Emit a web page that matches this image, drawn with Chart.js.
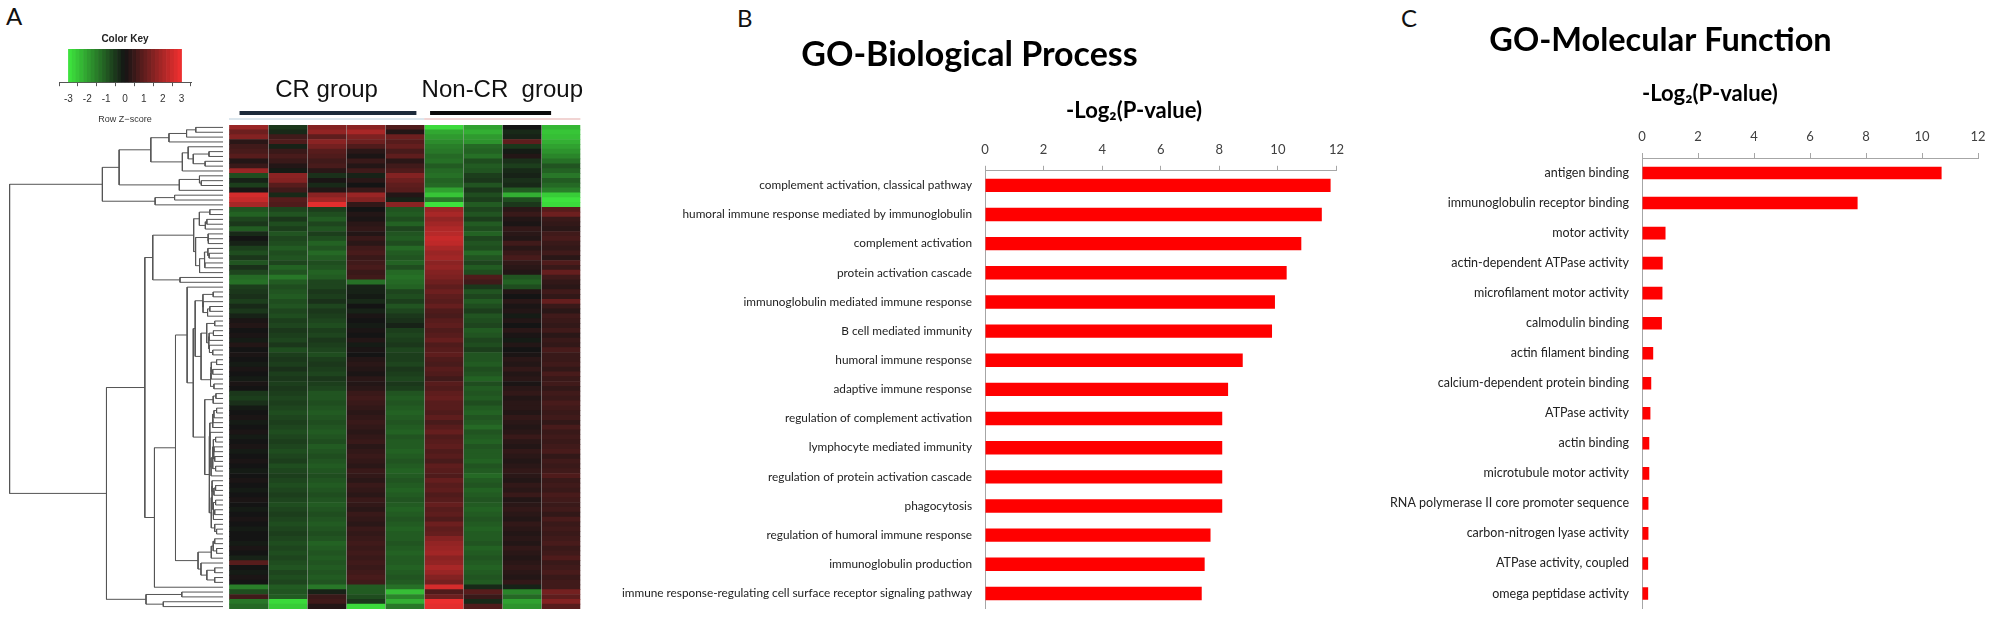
<!DOCTYPE html>
<html>
<head>
<meta charset="utf-8">
<script src="https://cdn.jsdelivr.net/npm/chart.js@4.4.1/dist/chart.umd.min.js"></script>
<style>
  body { margin: 0; background: #fff; width: 2008px; height: 629px; position: relative; overflow: hidden; }
  canvas { position: absolute; }
  .tag { position: absolute; font: 24px Lato, sans-serif; color: #111; line-height: 24px; }
</style>
</head>
<body>
<div class="tag" style="left:6px;top:4px">A</div>
<div class="tag" style="left:737px;top:6px">B</div>
<div class="tag" style="left:1401px;top:6px">C</div>

<canvas id="key" width="170" height="100" style="left:40px;top:25px"></canvas>
<canvas id="dendro" width="223" height="484" style="left:0px;top:125px"></canvas>
<canvas id="heat" width="374" height="549" style="left:229px;top:60px"></canvas>
<canvas id="bp" width="760" height="629" style="left:592px;top:0px"></canvas>
<canvas id="mf" width="662" height="629" style="left:1343px;top:0px"></canvas>

<script>
// ---- panel A: row z-scores, 9 samples (5 CR, 4 Non-CR), rows top to bottom
var groupNames = ['CR group', 'Non-CR  group'];
var groupSizes = [5, 4];
var zRows = [
  [1.8,-0.5,1.5,1.6,0.8,-2.8,-2.0,0.0,-2.3],
  [1.2,-0.3,1.7,2.0,0.2,-2.1,-2.2,-0.3,-2.5],
  [1.5,0.6,1.0,1.4,1.2,-1.9,-1.9,-0.2,-2.4],
  [0.3,0.8,1.6,1.2,0.9,-1.7,-1.8,1.0,-2.2],
  [0.6,-0.2,1.3,0.8,1.1,-1.5,-1.2,-0.5,-2.0],
  [0.7,0.5,0.9,0.3,0.7,-1.4,-1.1,-0.1,-1.8],
  [0.9,0.7,0.8,0.1,1.0,-1.2,-1.3,0.2,-1.6],
  [0.2,0.5,0.6,0.5,0.3,-1.3,-0.8,-0.4,-1.3],
  [0.5,0.2,0.7,0.2,0.6,-1.0,-1.0,-0.6,-0.9],
  [1.8,-0.1,0.3,0.6,0.8,-1.2,-0.9,-0.3,-1.1],
  [-0.8,1.6,-0.4,-0.2,1.5,-1.3,-0.6,-0.2,-1.4],
  [-0.2,1.5,0.1,0.3,1.2,-1.1,-0.5,-0.4,-1.0],
  [-0.6,0.9,-0.3,0.0,1.0,-1.2,-0.9,-0.3,-1.2],
  [0.1,0.6,0.2,0.5,0.9,-2.0,-0.5,-1.0,-1.5],
  [2.6,-0.3,1.6,1.8,0.2,-2.5,-0.8,-2.2,-2.6],
  [2.4,0.9,1.9,1.5,-0.2,-1.4,-0.6,-0.8,-2.9],
  [2.0,0.8,2.8,0.4,1.6,-2.9,-1.0,-0.5,-2.8],
  [-0.9,-0.7,-0.6,0.0,-0.9,1.8,-0.7,0.3,0.9],
  [-1.1,-0.9,-0.8,0.2,-1.0,2.0,-0.9,0.5,1.2],
  [-0.7,-0.5,-1.0,0.1,-0.8,1.7,-0.6,0.2,0.5],
  [-0.5,-0.8,-0.7,0.3,-1.1,1.9,-1.0,0.1,0.4],
  [-1.0,-0.6,-0.9,0.4,-0.7,2.1,-0.8,0.4,0.3],
  [-0.3,-0.9,-0.6,0.2,-0.9,2.2,-1.1,0.3,0.6],
  [0.0,-0.7,-0.8,0.5,-1.0,2.4,-0.7,0.2,0.7],
  [-0.2,-0.8,-1.1,0.3,-0.8,2.3,-0.9,0.6,0.5],
  [-0.6,-1.0,-0.9,0.6,-1.2,2.0,-0.8,0.3,0.4],
  [-0.8,-0.8,-1.2,0.7,-1.0,1.8,-1.2,0.5,0.6],
  [-0.5,-0.9,-1.0,0.5,-0.9,1.9,-0.9,0.7,0.3],
  [-0.9,-0.7,-0.8,0.6,-1.1,1.6,-0.7,0.4,0.8],
  [-0.4,-1.1,-0.9,0.7,-0.8,1.7,-1.0,0.3,0.5],
  [-0.7,-0.9,-1.1,0.5,-1.2,1.5,-0.8,0.2,1.1],
  [-1.2,-1.4,-1.0,0.6,-1.3,1.4,0.8,-0.9,0.6],
  [-1.3,-1.0,-0.7,-1.3,-1.2,1.2,0.6,-1.1,0.4],
  [-0.6,-0.8,-0.7,-0.2,-1.1,1.0,-0.5,-0.8,0.3],
  [-0.5,-0.9,-0.5,-0.2,-0.7,1.2,-0.9,0.2,0.6],
  [-0.4,-1.0,-0.6,-0.1,-0.8,1.0,-0.7,0.0,0.4],
  [-0.6,-0.8,-0.4,-0.3,-0.6,0.9,-1.0,0.3,1.1],
  [-0.3,-0.9,-0.7,0.0,-0.9,1.1,-0.8,0.1,0.5],
  [-0.5,-0.7,-0.5,-0.2,-0.7,0.8,-0.6,0.2,0.3],
  [-0.2,-0.8,-0.6,0.1,-0.5,0.7,-0.9,-0.1,0.6],
  [0.1,-0.6,-0.7,0.0,-0.4,0.9,-0.8,0.2,0.5],
  [0.2,-0.7,-0.8,-0.1,-0.2,1.0,-0.7,0.0,0.4],
  [0.0,-0.5,-0.6,0.1,-0.6,0.8,-1.0,0.3,0.6],
  [0.1,-0.6,-0.7,0.0,-0.7,0.9,-0.9,0.1,0.3],
  [-0.1,-0.7,-0.5,0.2,-0.6,1.1,-0.7,-0.1,0.5],
  [0.2,-0.5,-0.6,-0.1,-0.5,0.8,-0.8,0.2,0.4],
  [0.0,-0.8,-0.7,0.1,-0.7,0.9,-0.6,0.0,0.7],
  [0.1,-0.6,-0.8,0.0,-0.6,1.0,-0.9,0.1,0.5],
  [0.0,-0.5,-0.6,0.2,-0.6,0.8,-0.9,0.3,0.5],
  [-0.1,-0.6,-0.5,0.3,-0.7,0.7,-1.0,0.2,0.6],
  [0.1,-0.4,-0.6,0.2,-0.5,0.9,-0.8,0.4,0.4],
  [0.0,-0.6,-0.7,0.1,-0.6,0.8,-0.9,0.2,0.7],
  [-0.1,-0.5,-0.5,0.3,-0.7,0.6,-1.1,0.3,0.5],
  [0.1,-0.6,-0.6,0.2,-0.5,0.9,-0.8,0.1,0.6],
  [0.0,-0.5,-0.7,0.3,-0.6,0.8,-1.0,0.3,0.4],
  [-0.5,-0.6,-0.9,0.5,-0.9,1.0,-0.9,0.4,0.6],
  [-0.6,-0.7,-0.9,0.6,-1.0,1.1,-1.0,0.2,0.5],
  [-0.4,-0.6,-0.8,0.5,-0.9,0.9,-0.8,0.3,0.7],
  [-0.1,-0.7,-0.9,0.4,-1.0,0.9,-1.0,0.3,0.6],
  [0.0,-0.8,-1.0,0.3,-1.1,0.8,-1.1,0.2,0.5],
  [0.1,-0.7,-0.9,0.4,-1.0,1.0,-0.9,0.4,0.6],
  [-0.1,-0.6,-0.8,0.5,-0.9,0.7,-1.0,0.3,0.4],
  [0.0,-0.7,-0.9,0.4,-1.0,0.9,-1.2,0.2,0.7],
  [0.1,-0.8,-1.0,0.3,-1.1,1.1,-0.9,0.3,0.5],
  [-0.1,-0.7,-0.9,0.4,-0.9,0.8,-1.0,0.5,0.6],
  [0.0,-0.6,-0.8,0.5,-1.0,0.9,-1.1,0.3,0.5],
  [0.1,-0.7,-1.0,0.3,-1.0,1.0,-0.9,0.2,0.6],
  [-0.1,-0.8,-0.9,0.4,-1.1,0.8,-1.0,0.4,0.7],
  [0.0,-0.7,-0.8,0.5,-1.0,0.9,-1.0,0.3,0.4],
  [0.1,-0.6,-0.9,0.4,-0.9,0.7,-1.1,0.2,0.6],
  [0.0,-0.8,-1.0,0.3,-1.0,1.0,-0.9,0.3,0.5],
  [-0.1,-0.7,-0.9,0.5,-1.1,0.9,-1.0,0.4,0.6],
  [0.0,-0.6,-0.8,0.4,-1.0,0.8,-1.2,0.3,0.8],
  [0.1,-0.7,-0.9,0.3,-0.9,1.1,-1.0,0.2,0.5],
  [0.0,-0.8,-1.0,0.5,-1.0,0.9,-0.9,0.4,0.6],
  [-0.1,-0.7,-0.9,0.4,-1.1,1.0,-1.1,0.3,0.5],
  [0.0,-0.6,-0.8,0.3,-1.0,0.8,-1.0,0.5,0.7],
  [0.1,-0.7,-0.9,0.5,-0.9,0.9,-0.9,0.2,0.6],
  [0.0,-0.8,-1.0,0.4,-1.0,1.1,-1.0,0.3,0.5],
  [-0.1,-0.7,-0.9,0.3,-1.1,0.9,-1.1,0.4,0.6],
  [0.0,-0.6,-0.8,0.5,-1.0,1.0,-1.0,0.3,0.4],
  [0.1,-0.7,-0.9,0.4,-0.9,0.8,-0.9,0.2,0.7],
  [0.0,-0.8,-1.0,0.3,-1.0,1.2,-1.0,0.4,0.5],
  [-0.1,-0.7,-0.9,0.5,-1.1,1.0,-1.1,0.3,0.6],
  [0.0,-0.6,-0.8,0.4,-1.0,1.1,-1.0,0.2,0.5],
  [0.0,-0.7,-0.9,0.5,-1.0,1.5,-1.0,0.3,0.6],
  [-0.1,-0.8,-1.1,0.6,-0.9,1.7,-0.9,0.2,0.7],
  [0.1,-0.7,-1.0,0.5,-1.0,1.8,-1.1,0.4,0.5],
  [0.0,-0.8,-0.9,0.6,-1.1,1.9,-1.0,0.3,0.6],
  [-0.2,-0.7,-1.0,0.5,-1.0,1.6,-0.9,0.2,0.8],
  [0.9,-0.8,-0.9,0.6,-1.0,1.7,-1.0,0.3,0.5],
  [0.0,-0.9,-1.0,0.5,-1.1,2.0,-1.1,0.4,0.6],
  [-0.1,-0.7,-0.9,0.6,-1.0,1.8,-1.0,0.3,0.7],
  [0.1,-0.8,-1.0,0.7,-0.9,1.5,-0.9,0.2,0.5],
  [0.0,-0.7,-0.9,0.6,-1.0,1.3,-1.0,0.4,0.6],
  [-1.5,-1.0,-1.4,-1.0,-1.3,2.6,-0.3,-0.2,0.6],
  [-0.8,-0.9,-0.2,-1.0,-2.4,0.8,0.9,-1.6,1.3],
  [0.6,-1.0,0.5,-0.8,-1.6,1.2,0.5,-1.2,1.0],
  [-1.4,-2.8,0.6,-0.5,-2.2,2.9,-0.3,-2.0,1.5],
  [-1.2,-2.6,0.2,-2.8,-1.4,2.8,0.8,-1.8,0.9]
];
var keyTicks = [-3, -2, -1, 0, 1, 2, 3];

// ---- panel B
var bpLabels = [
  'complement activation, classical pathway',
  'humoral immune response mediated by immunoglobulin',
  'complement activation',
  'protein activation cascade',
  'immunoglobulin mediated immune response',
  'B cell mediated immunity',
  'humoral immune response',
  'adaptive immune response',
  'regulation of complement activation',
  'lymphocyte mediated immunity',
  'regulation of protein activation cascade',
  'phagocytosis',
  'regulation of humoral immune response',
  'immunoglobulin production',
  'immune response-regulating cell surface receptor signaling pathway'
];
var bpValues = [11.8, 11.5, 10.8, 10.3, 9.9, 9.8, 8.8, 8.3, 8.1, 8.1, 8.1, 8.1, 7.7, 7.5, 7.4];

// ---- panel C
var mfLabels = [
  'antigen binding',
  'immunoglobulin receptor binding',
  'motor activity',
  'actin-dependent ATPase activity',
  'microfilament motor activity',
  'calmodulin binding',
  'actin filament binding',
  'calcium-dependent protein binding',
  'ATPase activity',
  'actin binding',
  'microtubule motor activity',
  'RNA polymerase II core promoter sequence',
  'carbon-nitrogen lyase activity',
  'ATPase activity, coupled',
  'omega peptidase activity'
];
var mfValues = [10.7, 7.7, 0.84, 0.74, 0.73, 0.71, 0.40, 0.33, 0.30, 0.26, 0.26, 0.23, 0.23, 0.22, 0.22];

Chart.defaults.font.family = 'Lato';
Chart.defaults.animation = false;
Chart.defaults.plugins.legend.display = false;
Chart.defaults.plugins.tooltip.enabled = false;

// red-black-green colour scale of the row z-score
function zColor(z) {
  var mid = [20, 20, 20];
  var end = z < 0 ? [62, 232, 62] : [242, 48, 48];
  var t = Math.min(Math.abs(z) / 3, 1);
  var c = mid.map(function(m, i) { return Math.round(m + (end[i] - m) * t); });
  return 'rgb(' + c.join(',') + ')';
}

// ---- colour key
var keyBands = [];
for (var k = 0; k < 30; k++) keyBands.push(-3 + 0.1 + k * 0.2);
new Chart(document.getElementById('key'), {
  type: 'bar',
  data: { datasets: [{
    data: keyBands.map(function(v) { return { x: v, y: 1 }; }),
    backgroundColor: keyBands.map(zColor),
    barPercentage: 1, categoryPercentage: 1, borderWidth: 0
  }] },
  options: {
    responsive: false,
    layout: { padding: { left: 19, right: 19 } },
    plugins: {
      title: { display: true, text: 'Color Key', color: '#222',
               font: { family: 'Liberation Sans', size: 10, weight: 'bold' }, padding: { top: 8, bottom: 4 } }
    },
    scales: {
      x: { type: 'linear', min: -3, max: 3,
           afterBuildTicks: function(s) { s.ticks = keyTicks.map(function(v) { return { value: v }; }); },
           ticks: { color: '#333', padding: 7, font: { family: 'Liberation Sans', size: 10 } },
           grid: { drawOnChartArea: false, tickLength: 4, color: '#555' },
           border: { color: '#555' },
           title: { display: true, text: 'Row Z\u2212score', color: '#333',
                    font: { family: 'Liberation Sans', size: 9 }, padding: { top: 2, bottom: 0 } } },
      y: { display: false, min: 0, max: 1 }
    }
  }
});

// ---- dendrogram: order-preserving complete-linkage clustering of the rows
function clusterRows(rows) {
  function dist(a, b) {
    var s = 0;
    for (var i = 0; i < a.length; i++) s += (a[i] - b[i]) * (a[i] - b[i]);
    return Math.sqrt(s);
  }
  var nodes = rows.map(function(r, i) { return { members: [i], h: 0, y: i }; });
  var segs = [];
  while (nodes.length > 1) {
    var best = 0, bestD = Infinity;
    for (var i = 0; i < nodes.length - 1; i++) {
      var d = 0;
      nodes[i].members.forEach(function(a) {
        nodes[i + 1].members.forEach(function(b) { d = Math.max(d, dist(rows[a], rows[b])); });
      });
      if (d < bestD) { bestD = d; best = i; }
    }
    var l = nodes[best], r = nodes[best + 1];
    var h = Math.max(bestD, l.h, r.h);
    segs.push({ x: l.h, y: l.y }, { x: h, y: l.y }, { x: h, y: r.y }, { x: r.h, y: r.y }, { x: null, y: null });
    nodes.splice(best, 2, { members: l.members.concat(r.members), h: h, y: (l.y + r.y) / 2 });
  }
  return { segs: segs, top: nodes[0].h };
}
var tree = clusterRows(zRows);

new Chart(document.getElementById('dendro'), {
  type: 'scatter',
  data: { datasets: [{ data: tree.segs, showLine: true, spanGaps: false, borderColor: '#555',
                       borderWidth: 1, pointRadius: 0, clip: false }] },
  options: {
    responsive: false,
    scales: {
      x: { display: false, min: 0, max: tree.top * 1.045, reverse: true },
      y: { display: false, min: -0.5, max: zRows.length - 0.5, reverse: true }
    }
  }
});

// ---- heatmap
var groupStarts = [];
var groupCenters = [];
groupSizes.reduce(function(acc, n) { groupStarts.push(acc); groupCenters.push(acc + n / 2); return acc + n; }, 0);
var nSamples = groupSizes.reduce(function(a, b) { return a + b; }, 0);
var sampleNames = [];
groupSizes.forEach(function(n, g) { for (var i = 0; i < n; i++) sampleNames.push((g ? 'NonCR' : 'CR') + (i + 1)); });

var groupBars = {
  id: 'groupBars',
  afterDraw: function(chart, args, opts) {
    var s = chart.scales.grp, top = chart.chartArea.top, ctx = chart.ctx;
    ctx.save();
    groupSizes.forEach(function(n, g) {
      var from = groupStarts[g], to = from + n;
      ctx.strokeStyle = opts.barColors[g];
      ctx.lineWidth = 4;
      ctx.beginPath();
      ctx.moveTo(s.getPixelForValue(from + opts.barInset[g][0]), top - 12);
      ctx.lineTo(s.getPixelForValue(to - opts.barInset[g][1]), top - 12);
      ctx.stroke();
      ctx.strokeStyle = opts.sideColors[g];
      ctx.lineWidth = 1.2;
      ctx.beginPath();
      ctx.moveTo(s.getPixelForValue(from), top - 6);
      ctx.lineTo(s.getPixelForValue(to), top - 6);
      ctx.stroke();
    });
    ctx.restore();
  }
};

new Chart(document.getElementById('heat'), {
  type: 'bar',
  data: {
    labels: zRows.map(function(r, i) { return 'gene ' + (i + 1); }),
    datasets: sampleNames.map(function(name, c) {
      return {
        label: name,
        data: zRows.map(function() { return 1; }),
        backgroundColor: zRows.map(function(r) { return zColor(r[c]); }),
        borderWidth: 0, barPercentage: 1, categoryPercentage: 1
      };
    })
  },
  plugins: [groupBars],
  options: {
    indexAxis: 'y',
    responsive: false,
    plugins: {
      groupBars: { barColors: ['#1c2a3a', '#0a0a0a'], barInset: [[0.27, 0.2], [0.15, 0.75]],
                   sideColors: ['#b9d0de', '#e3aaa8'] }
    },
    scales: {
      x: { stacked: true, min: 0, max: nSamples, position: 'bottom',
           ticks: { display: false, stepSize: 1 },
           grid: { drawTicks: false, z: 1,
                   color: function(c) { return (c.index === 0 || c.index === nSamples) ? 'rgba(0,0,0,0)' : 'rgba(170,170,170,0.55)'; } },
           border: { display: false } },
      y: { stacked: true, display: false },
      grp: { type: 'linear', position: 'top', min: 0, max: nSamples,
             afterBuildTicks: function(s) { s.ticks = groupCenters.map(function(v) { return { value: v }; }); },
             afterFit: function(s) { s.height = 65; },
             ticks: { maxRotation: 0, autoSkip: false, padding: 20, color: '#111',
                      font: { family: 'Liberation Sans', size: 24 },
                      callback: function(v, i) { return groupNames[i]; } },
             grid: { display: false, drawTicks: false }, border: { display: false } }
    }
  }
});

// ---- GO bar charts
function goChart(id, title, labels, values, o) {
  return new Chart(document.getElementById(id), {
    type: 'bar',
    data: { labels: labels, datasets: [{ data: values, backgroundColor: '#ff0000',
                                          barPercentage: o.barPct, categoryPercentage: 1 }] },
    options: {
      indexAxis: 'y',
      responsive: false,
      layout: { padding: { right: o.padRight, bottom: o.padBottom } },
      plugins: {
        title: { display: true, text: title, color: '#000',
                 font: { size: o.titleSize, weight: 'bold' }, padding: { top: o.titleTop, bottom: 0 } }
      },
      scales: {
        x: { position: 'top', min: 0, max: 12,
             ticks: { stepSize: 2, padding: 8, color: '#404040', font: { size: 13 } },
             grid: { drawOnChartArea: false, tickLength: 5, color: '#a6a6a6' },
             border: { color: '#a6a6a6' },
             title: { display: true, text: o.axisText, align: o.axisAlign, color: '#000',
                      font: { size: 22, weight: 'bold' }, padding: { top: o.axisTitleTop, bottom: 0 } },
             afterFit: function(s) { s.height = o.axisHeight; } },
        y: { grid: { display: false, drawTicks: false }, border: { color: '#a6a6a6' },
             ticks: { color: '#222', padding: 13, autoSkip: false, font: { size: o.labelSize } },
             afterFit: function(s) { s.width = o.labelWidth; } }
      }
    }
  });
}

var axisName = '-Log\u2082(P-value)';
goChart('bp', 'GO-Biological Process', bpLabels, bpValues,
        { labelWidth: 393, padRight: 5, padBottom: 21, titleSize: 34, titleTop: 35, axisHeight: 95,
          axisTitleTop: 21.5, axisAlign: 'center', axisText: axisName + '\u00a0'.repeat(10),
          labelSize: 11.8, barPct: 0.46 });
goChart('mf', 'GO-Molecular Function', mfLabels, mfValues,
        { labelWidth: 299, padRight: 27, padBottom: 18, titleSize: 32.5, titleTop: 21.5, axisHeight: 97.5,
          axisTitleTop: 20, axisAlign: 'start', axisText: axisName,
          labelSize: 12.5, barPct: 0.42 });
</script>
</body>
</html>
